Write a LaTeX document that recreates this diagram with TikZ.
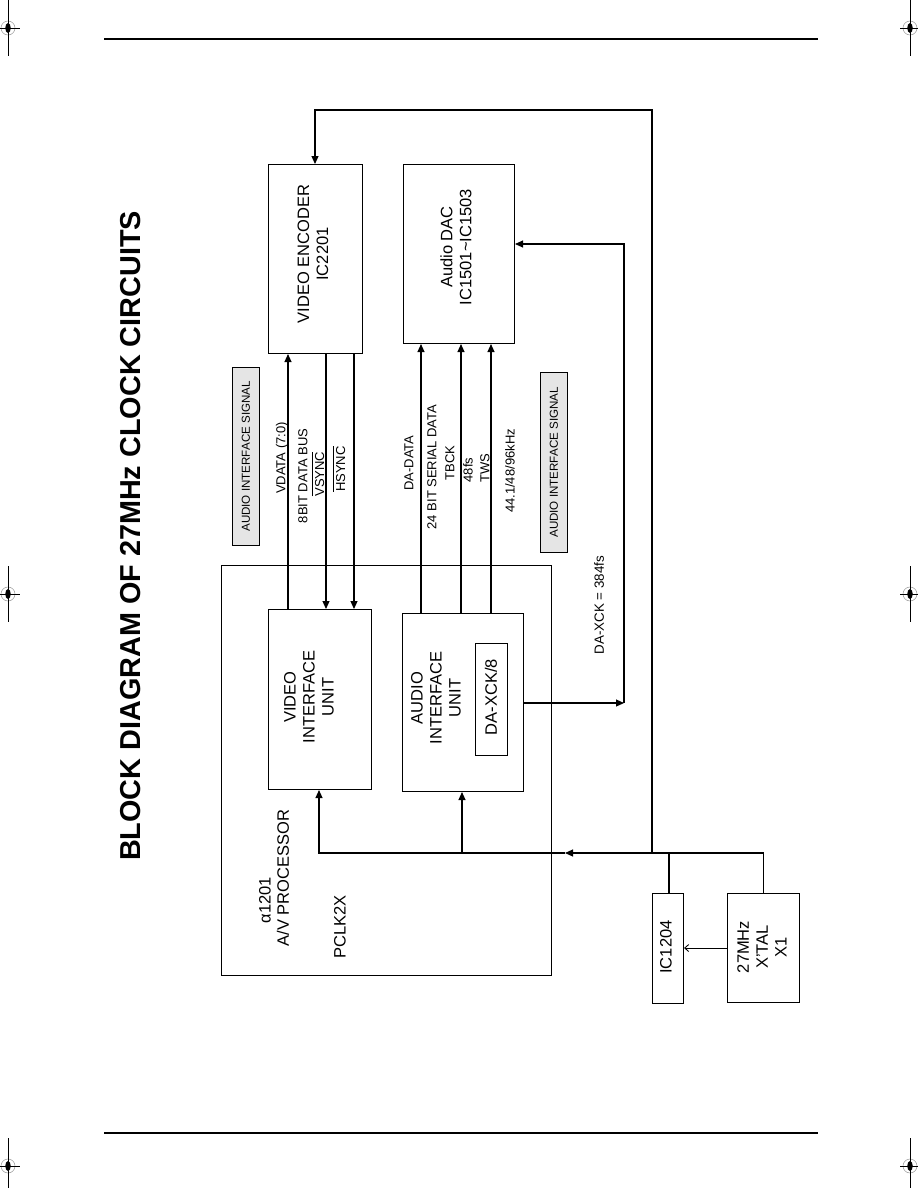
\documentclass[tikz,border=0pt]{standalone}
\usepackage{fontspec}
\setmainfont{Liberation Sans}
\usetikzlibrary{arrows.meta}

\begin{document}
\begin{tikzpicture}[
  x=0.02cm, y=-0.02cm,
  box/.style={rectangle, draw, line width=0.6pt, inner sep=0pt, anchor=north west},
  sigbox/.style={rectangle, draw, line width=0.4pt, fill=black!10, inner sep=0pt, anchor=north west},
  boxtext/.style={rotate=90, align=center, inner sep=0pt, font=\fontsize{9.4}{10.8}\selectfont},
  sig/.style={rotate=90, inner sep=0pt, font=\fontsize{7.4}{8}\selectfont},
  wire/.style={line width=0.6pt},
  arr/.style={wire, -{Triangle[length=1.6mm, width=1.4mm]}},
  thinarr/.style={line width=0.5pt, -{Straight Barb[length=0.8mm, width=1.4mm]}},
  rule/.style={line width=0.9pt},
  regmark/.pic={
    \draw[black!40, line width=0.3pt] (0,0) circle (0.14cm);
    \fill (0,0) ellipse (0.055cm and 0.1cm);
    \draw[line width=0.5pt] (-10,0) -- (12,0) (0,-28) -- (0,28);
  }
]
\useasboundingbox (0,0) rectangle (918,1188);

% page furniture
\draw[rule] (104,39) -- (818,39);
\draw[rule] (104,1133) -- (818,1133);
\pic at (8,28) {regmark};
\pic at (910,28) {regmark};
\pic at (8,594) {regmark};
\pic at (910,594) {regmark};
\pic at (8,1166) {regmark};
\pic at (910,1166) {regmark};

\node[rotate=90, inner sep=0pt, font=\bfseries\fontsize{16.4}{18}\selectfont] (title) at (131,536)
  {BLOCK DIAGRAM OF 27MHz CLOCK CIRCUITS};

% blocks
\node[box, minimum width=6.6cm, minimum height=8.2cm] (avp) at (221,565) {};
\node[box, minimum width=1.88cm, minimum height=3.78cm] (venc) at (268,164) {};
\node[box, minimum width=2.22cm, minimum height=3.58cm] (adac) at (403,164) {};
\node[box, minimum width=2.06cm, minimum height=3.6cm] (viu) at (268,609) {};
\node[box, minimum width=2.42cm, minimum height=3.56cm] (aiu) at (402,613) {};
\node[box, minimum width=0.64cm, minimum height=2.24cm] (xck) at (475,643) {};
\node[box, minimum width=0.62cm, minimum height=2.2cm] (ic1204) at (652,893) {};
\node[box, minimum width=1.44cm, minimum height=2.18cm] (xtal) at (727,893) {};
\node[sigbox, minimum width=0.54cm, minimum height=3.56cm] (vsig) at (232,367) {};
\node[sigbox, minimum width=0.54cm, minimum height=3.6cm] (asig) at (540,372) {};

\node[boxtext] (venc-t) at (313,254) {VIDEO ENCODER\\IC2201};
\node[boxtext] (adac-t) at (456,247) {Audio DAC\\IC1501\textasciitilde IC1503};
\node[boxtext] (viu-t) at (309,697) {VIDEO\\INTERFACE\\UNIT};
\node[boxtext] (aiu-t) at (436,698) {AUDIO\\INTERFACE\\UNIT};
\node[boxtext] (xck-t) at (491,697) {DA-XCK/8};
\node[boxtext] (ic1204-t) at (666,947) {IC1204};
\node[boxtext] (xtal-t) at (762,947) {27MHz\\X'TAL\\X1};
\node[boxtext] (avp-id) at (265,900) {α1201};
\node[boxtext] (avp-name) at (283,878) {A/V PROCESSOR};
\node[boxtext] (avp-clk) at (340,927) {PCLK2X};
\node[sig, font=\fontsize{6.6}{7}\selectfont] (vsig-t) at (vsig) {AUDIO INTERFACE SIGNAL};
\node[sig, font=\fontsize{6.6}{7}\selectfont] (asig-t) at (asig) {AUDIO INTERFACE SIGNAL};

% signal labels
\node[sig] (l-vdata) at (282,458) {VDATA (7:0)};
\node[sig] (l-bus) at (303,476) {8BIT DATA BUS};
\node[sig] (l-vsync) at (318,474) {$\overline{\mbox{VSYNC}}$};
\node[sig] (l-hsync) at (339,469) {$\overline{\mbox{HSYNC}}$};
\node[sig] (l-dadata) at (409,463) {DA-DATA};
\node[sig] (l-serial) at (432,467) {24 BIT SERIAL DATA};
\node[sig] (l-tbck) at (450,463) {TBCK};
\node[sig] (l-48fs) at (468,470) {48fs};
\node[sig] (l-tws) at (485,468) {TWS};
\node[sig] (l-rate) at (510,471) {44.1/48/96kHz};
\node[sig, font=\fontsize{7.6}{8}\selectfont] (l-dxck) at (599,605) {DA-XCK = 384fs};

% wire positions
\coordinate (xvd) at (288,0);
\coordinate (xvs) at (326,0);
\coordinate (xhs) at (354,0);
\coordinate (xdd) at (421,0);
\coordinate (xtb) at (461,0);
\coordinate (xtw) at (491,0);
\coordinate (dxbot) at (624,703);
\coordinate (dxtop) at (624,244);
\coordinate (busarr) at (565,853);
\coordinate (jvid) at (319,853);
\coordinate (jaud) at (462,853);
\coordinate (jout) at (652,853);
\coordinate (jic) at (669,853);
\coordinate (otop) at (315,110);

% video / audio buses
\draw[arr] (viu.north -| xvd) -- (venc.south -| xvd);
\draw[arr] (venc.south -| xvs) -- (viu.north -| xvs);
\draw[arr] (venc.south -| xhs) -- (viu.north -| xhs);
\draw[arr] (aiu.north -| xdd) -- (adac.south -| xdd);
\draw[arr] (aiu.north -| xtb) -- (adac.south -| xtb);
\draw[arr] (aiu.north -| xtw) -- (adac.south -| xtw);

% DA-XCK
\draw[arr] (aiu.east |- dxbot) -- (dxbot);
\draw[arr] (dxbot) -- (dxtop) -- (adac.east |- dxtop);

% 27MHz clock
\draw[arr] (xtal.north) |- (busarr);
\draw[arr] (busarr) -- (jvid) -- (viu.south -| jvid);
\draw[arr] (jaud) -- (aiu.south -| jaud);
\draw[wire] (jic) -- (ic1204.north -| jic);
\draw[arr] (jout) |- (otop) -- (venc.north -| otop);
\draw[thinarr] (xtal.west) -- (ic1204.east |- xtal.west);
\end{tikzpicture}
\end{document}
